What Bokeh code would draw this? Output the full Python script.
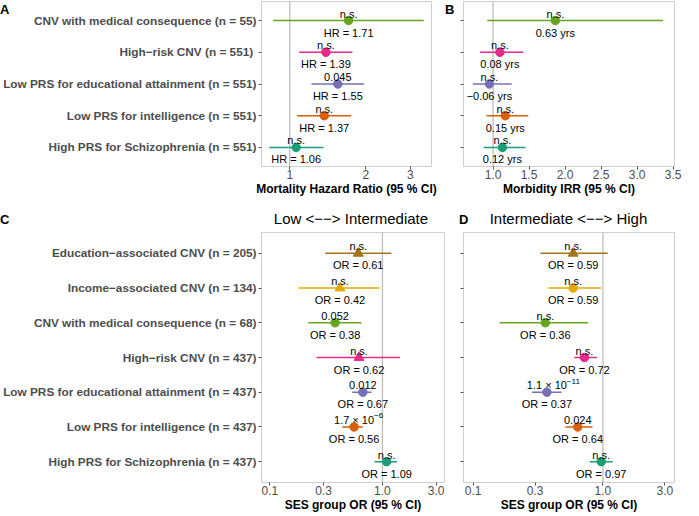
import numpy as np
from bokeh.plotting import figure
from bokeh.models import (ColumnDataSource, Range1d, FixedTicker,
                          NumeralTickFormatter, Span, Div)
from bokeh.layouts import column, row
from bokeh.core.properties import value, field
from bokeh.embed import file_html
from bokeh.resources import INLINE

FONT = "Liberation Sans"
TEAL, ORANGE, PURPLE, PINK = "#1B9E77", "#D95F02", "#7570B3", "#E7298A"
GREEN, GOLD, BROWN = "#66A61E", "#E6AB02", "#A6761D"

# ---------------- data ----------------
a_categories = ["CNV with medical consequence (n = 55)",
                "High\u2212risk CNV (n  = 551)",
                "Low PRS for educational attainment (n = 551)",
                "Low PRS for intelligence (n = 551)",
                "High PRS for Schizophrenia (n = 551)"]
a_hr = [1.71, 1.39, 1.55, 1.37, 1.06]
a_lo = [0.86, 1.09, 1.22, 1.07, 0.83]
a_hi = [3.39, 1.77, 1.97, 1.75, 1.36]
a_p = ["n.s.", "n.s.", "0.045", "n.s.", "n.s."]
a_colors = [GREEN, PINK, PURPLE, ORANGE, TEAL]
a_markers = ["circle"] * 5
a_ticks = [1, 2, 3]

b_irr = [1.865, 1.095, 0.95, 1.17, 1.13]
b_lo = [0.92, 0.82, 0.72, 0.91, 0.87]
b_hi = [3.36, 1.42, 1.26, 1.49, 1.45]
b_p = ["n.s.", "n.s.", "n.s.", "n.s.", "n.s."]
b_effect = ["0.63 yrs", "0.08 yrs", "\u22120.06 yrs", "0.15 yrs", "0.12 yrs"]
b_ticks = [1.0, 1.5, 2.0, 2.5, 3.0, 3.5]

cd_categories = ["Education\u2212associated CNV (n = 205)",
                 "Income\u2212associated CNV (n = 134)",
                 "CNV with medical consequence (n = 68)",
                 "High\u2212risk CNV (n = 437)",
                 "Low PRS for educational attainment (n = 437)",
                 "Low PRS for intelligence (n = 437)",
                 "High PRS for Schizophrenia (n = 437)"]
cd_colors = [BROWN, GOLD, GREEN, PINK, PURPLE, ORANGE, TEAL]
cd_ticks = [0.1, 0.3, 1.0, 3.0]

c_or = [0.61, 0.42, 0.38, 0.62, 0.67, 0.56, 1.09]
c_lo = [0.31, 0.18, 0.22, 0.26, 0.54, 0.44, 0.85]
c_hi = [1.20, 0.94, 0.65, 1.43, 0.80, 0.67, 1.35]
c_p = ["n.s.", "n.s.", "0.052", "n.s.", "0.012", "1.7 \u00d7 10^\u22126", "n.s."]
c_markers = ["triangle", "triangle", "circle", "triangle", "circle", "circle", "circle"]

d_or = [0.59, 0.59, 0.36, 0.72, 0.37, 0.64, 0.97]
d_lo = [0.33, 0.38, 0.16, 0.60, 0.285, 0.515, 0.79]
d_hi = [1.09, 0.97, 0.77, 0.90, 0.48, 0.83, 1.19]
d_p = ["n.s.", "n.s.", "n.s.", "n.s.", "1.1 \u00d7 10^\u221211", "0.024", "n.s."]
d_markers = ["triangle", "circle", "circle", "circle", "circle", "circle", "circle"]

panel_titles = ["Low <\u2212\u2212> Intermediate", "Intermediate <\u2212\u2212> High"]
panel_tags = ["A", "B", "C", "D"]


def panel(cats, est, lo, hi, ptxt, etxt, colors, markers, xr, log, ticks, fmt,
          xlabel, w, h, bl, br, bt, show_y):
    n = len(cats)
    ypos = [n - i for i in range(n)]  # first category on top
    p = figure(width=w, height=h,
               x_axis_type="log" if log else "linear",
               x_range=Range1d(*xr), y_range=Range1d(0.4, n + 0.6),
               output_backend="svg", toolbar_location=None,
               min_border_left=bl, min_border_right=br, min_border_top=bt,
               min_border_bottom=0)
    p.xgrid.visible = False
    p.ygrid.visible = False
    p.outline_line_color = "#CFCFCF"
    p.outline_line_width = 1
    p.background_fill_color = "white"
    p.border_fill_color = None
    for ax in (p.xaxis[0], p.yaxis[0]):
        ax.axis_line_color = None
        ax.major_tick_line_color = "#555555"
        ax.major_tick_out = 3
        ax.major_tick_in = 0
        ax.minor_tick_line_color = None
        ax.major_label_text_font = FONT
        ax.major_label_text_color = "#4D4D4D"
        ax.major_label_standoff = 2
    p.xaxis.ticker = FixedTicker(ticks=ticks)
    p.xaxis.formatter = NumeralTickFormatter(format=fmt)
    p.xaxis.major_label_text_font_size = "12px"
    p.xaxis.major_label_standoff = 0
    p.xaxis.axis_label = xlabel
    p.xaxis.axis_label_text_font = FONT
    p.xaxis.axis_label_text_font_style = "bold"
    p.xaxis.axis_label_text_font_size = "12px"
    p.xaxis.axis_label_text_color = "black"
    p.xaxis.axis_label_standoff = 0
    p.yaxis.ticker = FixedTicker(ticks=ypos)
    if show_y:
        p.yaxis.major_label_overrides = {k: c for k, c in zip(ypos, cats)}
        p.yaxis.major_label_text_font_size = "11.8px"
        p.yaxis.major_label_text_font_style = "bold"
    else:
        p.yaxis.major_label_text_font_size = "1px"
        p.yaxis.major_label_text_color = None

    p.add_layout(Span(location=1, dimension="height", line_color="#BDBDBD",
                      line_width=1.3, level="underlay"))

    sizes = [10 if m == "triangle" else 8.5 for m in markers]
    src = ColumnDataSource(dict(y=ypos, est=est, lo=lo, hi=hi, color=colors,
                                marker=markers, size=sizes, etxt=etxt))
    p.segment(x0="lo", y0="y", x1="hi", y1="y", line_color="color",
              line_width=1.5, source=src)
    p.scatter(x="est", y="y", marker=field("marker"), size="size",
              fill_color="color", line_color="color", source=src)

    plain = [i for i, t in enumerate(ptxt) if "^" not in t]
    sup = [i for i, t in enumerate(ptxt) if "^" in t]
    ps = ColumnDataSource(dict(y=[ypos[i] for i in plain], est=[est[i] for i in plain],
                               t=[ptxt[i] for i in plain]))
    p.text(x="est", y="y", text="t", source=ps, text_align="center",
           text_baseline="middle", y_offset=-7, text_font=value(FONT),
           text_font_size="11px", text_color="black")
    if sup:
        ss = ColumnDataSource(dict(y=[ypos[i] for i in sup], est=[est[i] for i in sup],
                                   main=[ptxt[i].split("^")[0] for i in sup],
                                   exp=[ptxt[i].split("^")[1] for i in sup]))
        p.text(x="est", y="y", text="main", source=ss, text_align="right",
               text_baseline="middle", x_offset=20, y_offset=-7,
               text_font=value(FONT), text_font_size="11px", text_color="black")
        p.text(x="est", y="y", text="exp", source=ss, text_align="left",
               text_baseline="middle", x_offset=20, y_offset=-11,
               text_font=value(FONT), text_font_size="8px", text_color="black")
    p.text(x="est", y="y", text="etxt", source=src, text_align="center",
           text_baseline="middle", y_offset=12, text_font=value(FONT),
           text_font_size="11px", text_color="black")
    return p


A_RANGE = (0.773, 3.64)
B_RANGE = (0.59, 3.52)
CD_RANGE = (0.0844, 3.556)

H1, H2T, H2 = 198, 31, 285

pA = panel(a_categories, a_hr, a_lo, a_hi, a_p, [f"HR = {v:.2f}" for v in a_hr],
           a_colors, a_markers, A_RANGE, True, a_ticks, "0",
           "Mortality Hazard Ratio (95 % CI)", 443, H1, 258, 12, 1, True)
pB = panel(a_categories, b_irr, b_lo, b_hi, b_p, b_effect, a_colors, a_markers,
           B_RANGE, False, b_ticks, "0.0", "Morbidity IRR (95 % CI)",
           240, H1, 20, 9, 1, False)
pC = panel(cd_categories, c_or, c_lo, c_hi, c_p, [f"OR = {v:.2f}" for v in c_or],
           cd_colors, c_markers, CD_RANGE, True, cd_ticks, "0.0",
           "SES group OR (95 % CI)", 449, H2, 258, 5, 3, True)
pD = panel(cd_categories, d_or, d_lo, d_hi, d_p, [f"OR = {v:.2f}" for v in d_or],
           cd_colors, d_markers, CD_RANGE, True, cd_ticks, "0.0",
           "SES group OR (95 % CI)", 234, H2, 14, 9, 3, False)

FF = "font-family:'Liberation Sans',Arial,sans-serif;color:black;white-space:nowrap;line-height:1;"
TAG = FF + "position:absolute;font-size:13px;font-weight:bold;"
TTL = FF + "position:absolute;font-size:15px;font-weight:normal;text-align:center;"


def esc(s):
    return s.replace("<", "&lt;").replace(">", "&gt;")


hdr1 = Div(text=(f'<div style="position:relative;width:683px;height:16px;">'
                 f'<span style="{TAG}left:0px;top:3px;">{panel_tags[0]}</span>'
                 f'<span style="{TAG}left:445px;top:3px;">{panel_tags[1]}</span></div>'),
           width=683, height=16, margin=(0, 0, -16, 0), styles={"z-index": "2"})
hdr2 = Div(text=(f'<div style="position:relative;width:683px;height:{H2T}px;">'
                 f'<span style="{TAG}left:0px;top:15px;">{panel_tags[2]}</span>'
                 f'<div style="{TTL}left:258px;width:186px;top:13px;">{esc(panel_titles[0])}</div>'
                 f'<span style="{TAG}left:459px;top:15px;">{panel_tags[3]}</span>'
                 f'<div style="{TTL}left:463px;width:211px;top:13px;">{esc(panel_titles[1])}</div></div>'),
           width=683, height=H2T, margin=0)

layout = column(hdr1, row(pA, pB), hdr2, row(pC, pD))
open("out.html", "w").write(file_html(layout, INLINE))
